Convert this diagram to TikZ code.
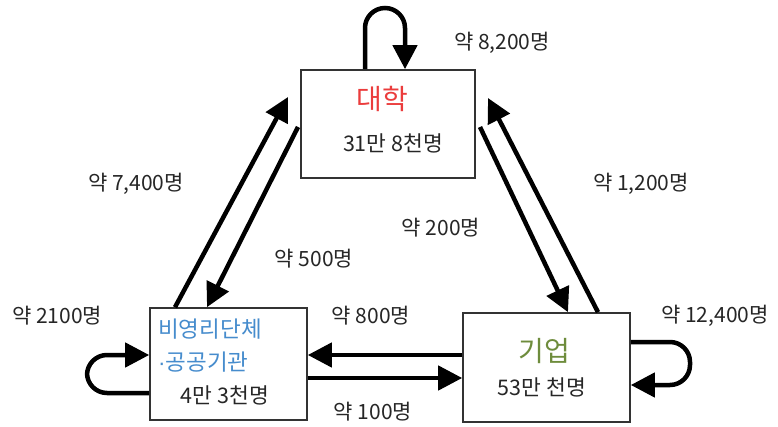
\documentclass[tikz,border=0pt]{standalone}
\usepackage{fontspec}
\newfontfamily\kr{Noto Sans CJK KR}
\newfontfamily\lat{Liberation Sans}
\usetikzlibrary{arrows.meta}
\begin{document}
\begin{tikzpicture}[x=1pt,y=-1pt,
  box/.style={draw=black!80,line width=1.6pt,inner sep=0pt,fill=white},
  flow/.style={line width=4.5pt,-{Triangle[length=24pt,width=24pt]}},
  loopflow/.style={flow,rounded corners=20pt},
  lbl/.style={font=\kr\fontsize{21}{22}\selectfont,text=black!85,inner sep=0pt},
  num/.style={font=\kr\fontsize{21.5}{22}\selectfont,text=black!85,inner sep=0pt},
  ttl/.style={font=\kr\fontsize{28}{30}\selectfont,inner sep=0pt}
]
\useasboundingbox (0,0) rectangle (778,427);
% boxes
\node[box,minimum width=174pt,minimum height=108pt] (U) at (388,124) {};
\node[box,minimum width=157pt,minimum height=112pt] (N) at (228.5,364) {};
\node[box,minimum width=167pt,minimum height=109pt] (C) at (546.5,367.5) {};
% box texts
\node[ttl,text={rgb,255:red,235;green,60;blue,60}] (Ut) at (382,99) {대학};
\node[num] (Un) at (393,143) {31만 8천명};
\node[ttl,text={rgb,255:red,70;green,140;blue,205},align=left,anchor=west,font=\kr\fontsize{22.5}{33}\selectfont] (Nt) at (158,346) {비영리단체\\{\lat ·}공공기관};
\node[num] (Nn) at (225,395) {4만 3천명};
\node[ttl,text={rgb,255:red,110;green,140;blue,60}] (Ct) at (544,351) {기업};
\node[num] (Cn) at (542,387) {53만 천명};
% loops
\draw[loopflow] (365,0 |- U.north) -- (365,8) -- (405,8) -- (405,0 |- U.north);
\draw[loopflow] (N.west |- 0,393) -- (87,393) -- (87,355) -- (N.west |- 0,355);
\draw[loopflow] (C.east |- 0,342) -- (690,342) -- (690,385) -- (C.east |- 0,385);
% diagonal flows
\coordinate (a1) at (175,0 |- N.north);
\coordinate (a2) at (288,97);
\draw[flow] (a1) -- (a2);
\coordinate (b1) at (298,127);
\coordinate (b2) at (207,0 |- N.north);
\draw[flow] (b1) -- (b2);
\coordinate (c1) at (480,127);
\coordinate (c2) at (568,0 |- C.north);
\draw[flow] (c1) -- (c2);
\coordinate (d1) at (598,0 |- C.north);
\coordinate (d2) at (488,98);
\draw[flow] (d1) -- (d2);
% horizontal flows
\draw[flow] (C.west |- 0,355) -- (N.east |- 0,355);
\draw[flow] (N.east |- 0,378) -- (C.west |- 0,378);
% labels
\node[lbl] (l1) at (502,43) {약 8,200명};
\node[lbl] (l2) at (641,184) {약 1,200명};
\node[lbl] (l3) at (136,184) {약 7,400명};
\node[lbl] (l4) at (441,228) {약 200명};
\node[lbl] (l5) at (314,259) {약 500명};
\node[lbl] (l6) at (57,316) {약 2100명};
\node[lbl] (l7) at (371,316) {약 800명};
\node[lbl] (l8) at (715,316) {약 12,400명};
\node[lbl] (l9) at (373,412) {약 100명};
\end{tikzpicture}
\end{document}
